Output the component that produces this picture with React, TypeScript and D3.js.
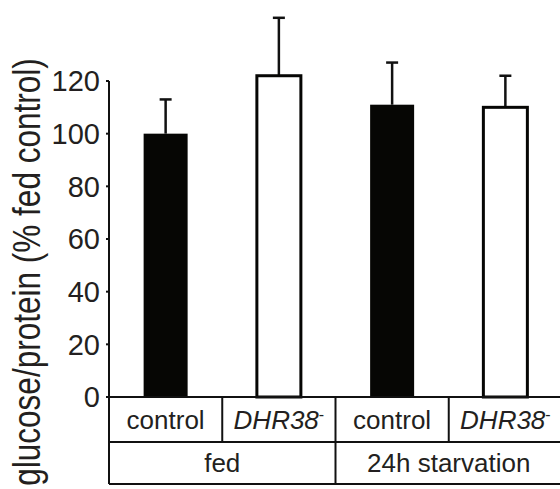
import * as d3 from "d3";
import { useEffect, useRef } from "react";

const genotypes = ["control", "DHR38", "control", "DHR38"];
const conditions = ["fed", "24h starvation"];
const means = [100, 122, 111, 110];
const errors = [13, 22, 16, 12];
const filled = [true, false, true, false];
const yTicks = [0, 20, 40, 60, 80, 100, 120];

const W = 560;
const H = 489;
const FONT = "'Liberation Sans', Arial, Helvetica, sans-serif";

export default function App() {
  const ref = useRef<SVGSVGElement>(null);

  useEffect(() => {
    const svg = d3.select(ref.current);
    svg.selectAll("*").remove();

    const x0 = 109;
    const x1 = 562;
    const tableTop = 397;
    const rowMid = 442;
    const tableBottom = 484;

    const x = d3
      .scaleBand<number>()
      .domain(d3.range(genotypes.length))
      .range([x0, x1])
      .padding(0);

    const y = d3.scaleLinear().domain([0, 120]).range([tableTop, 81]);

    const barW = 44;

    // y axis
    svg
      .append("line")
      .attr("x1", x0)
      .attr("x2", x0)
      .attr("y1", y(120))
      .attr("y2", tableBottom)
      .attr("stroke", "#111")
      .attr("stroke-width", 2);

    svg
      .selectAll(".tick")
      .data(yTicks)
      .enter()
      .append("line")
      .attr("x1", x0 - 3)
      .attr("x2", x0)
      .attr("y1", (d) => y(d))
      .attr("y2", (d) => y(d))
      .attr("stroke", "#111")
      .attr("stroke-width", 2);

    svg
      .selectAll(".tickLabel")
      .data(yTicks)
      .enter()
      .append("text")
      .attr("x", 100)
      .attr("y", (d) => y(d))
      .attr("dy", "0.36em")
      .attr("text-anchor", "end")
      .attr("font-family", FONT)
      .attr("font-size", 29)
      .attr("fill", "#231f20")
      .text((d) => d);

    // rotated label is drawn taller than it is long in the original
    svg
      .append("text")
      .attr("transform", `translate(40,272) rotate(-90) scale(0.83,1)`)
      .attr("text-anchor", "middle")
      .attr("font-family", FONT)
      .attr("font-size", 38)
      .attr("fill", "#231f20")
      .text("glucose/protein (% fed control)");

    // error bars
    means.forEach((m, i) => {
      const cx = x(i)! + x.bandwidth() / 2;
      const g = svg.append("g");
      g.append("line")
        .attr("x1", cx)
        .attr("x2", cx)
        .attr("y1", y(m))
        .attr("y2", y(m + errors[i]))
        .attr("stroke", "#111")
        .attr("stroke-width", 2.5);
      g.append("line")
        .attr("x1", cx - 6)
        .attr("x2", cx + 6)
        .attr("y1", y(m + errors[i]))
        .attr("y2", y(m + errors[i]))
        .attr("stroke", "#111")
        .attr("stroke-width", 2.5);
    });

    // bars
    svg
      .selectAll(".bar")
      .data(means)
      .enter()
      .append("rect")
      .attr("x", (d, i) => x(i)! + x.bandwidth() / 2 - barW / 2)
      .attr("y", (d) => y(d))
      .attr("width", barW)
      .attr("height", (d) => y(0) - y(d))
      .attr("fill", (d, i) => (filled[i] ? "#060604" : "#fff"))
      .attr("stroke", "#060604")
      .attr("stroke-width", (d, i) => (filled[i] ? 0 : 3));

    // table
    const tl = (xa: number, ya: number, xb: number, yb: number) =>
      svg
        .append("line")
        .attr("x1", xa)
        .attr("y1", ya)
        .attr("x2", xb)
        .attr("y2", yb)
        .attr("stroke", "#111")
        .attr("stroke-width", 2);

    tl(x0 - 1, tableTop, x1, tableTop);
    tl(x0, rowMid, x1, rowMid);
    tl(x0, tableBottom, x1, tableBottom);
    d3.range(1, genotypes.length).forEach((i) => {
      const xi = x(i)!;
      tl(xi, tableTop, xi, i === 2 ? tableBottom : rowMid);
    });

    genotypes.forEach((g, i) => {
      const cx = x(i)! + x.bandwidth() / 2;
      const t = svg
        .append("text")
        .attr("x", cx)
        .attr("y", (tableTop + rowMid) / 2)
        .attr("dy", "0.36em")
        .attr("text-anchor", "middle")
        .attr("font-family", FONT)
        .attr("font-size", 26)
        .attr("fill", "#231f20");
      if (g === "control") {
        t.text(g);
      } else {
        t.append("tspan").attr("font-style", "italic").text(g);
        t.append("tspan")
          .attr("font-size", 16)
          .attr("dy", "-0.55em")
          .text("-");
      }
    });

    conditions.forEach((c, j) => {
      const cx = x(j * 2)! + x.bandwidth();
      svg
        .append("text")
        .attr("x", cx)
        .attr("y", (rowMid + tableBottom) / 2)
        .attr("dy", "0.36em")
        .attr("text-anchor", "middle")
        .attr("font-family", FONT)
        .attr("font-size", 26)
        .attr("fill", "#231f20")
        .text(c);
    });
  }, []);

  return (
    <svg
      ref={ref}
      width={W}
      height={H}
      style={{ position: "absolute", left: 0, top: 0, background: "#fff" }}
    />
  );
}
